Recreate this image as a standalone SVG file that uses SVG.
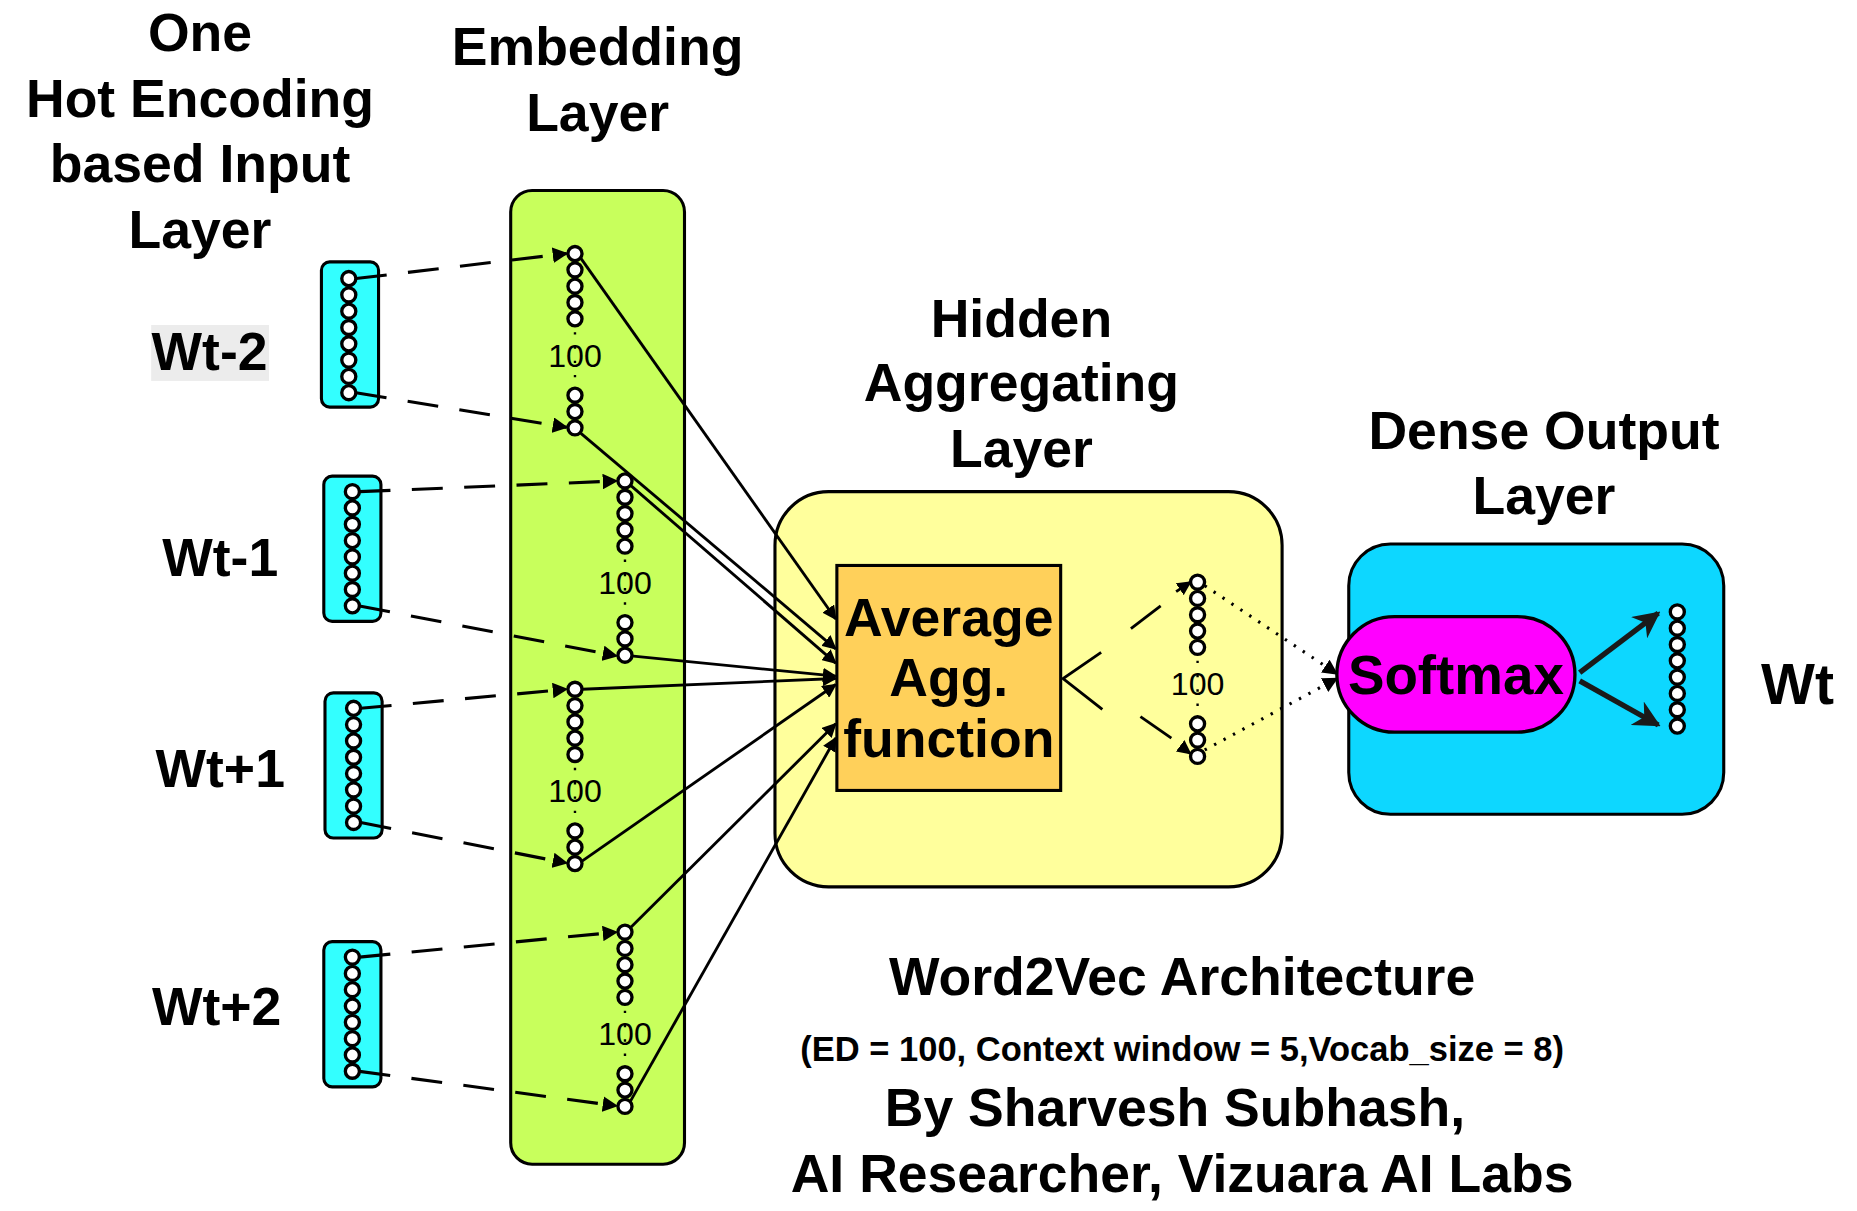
<svg xmlns="http://www.w3.org/2000/svg" width="1857" height="1211" viewBox="0 0 1857 1211">
<defs>
<style>
text{font-family:"Liberation Sans",Arial,sans-serif;font-weight:bold;fill:#000;text-anchor:middle}
.t{font-size:45px}
.n{font-weight:normal;font-size:27px}
.c{fill:#fff;stroke:#000;stroke-width:2.8}
.d{stroke:#000;stroke-width:2.6;stroke-dasharray:26 18;fill:none}
.s{stroke:#000;stroke-width:2.4;fill:none}
.dot{stroke:#000;stroke-width:2.6;stroke-dasharray:2 7;fill:none}
</style>
<marker id="a" viewBox="0 0 10 10" refX="9" refY="5" markerWidth="5" markerHeight="5" orient="auto"><path d="M0,0L10,5L0,10z" fill="#000"/></marker>
<marker id="b" viewBox="0 0 10 10" refX="9" refY="5" markerWidth="5" markerHeight="5" orient="auto"><path d="M0,0L10,5L0,10L3,5z" fill="#1a1a1a"/></marker>
<g id="col5"><circle class="c" cx="0" cy="0" r="5.9"/><circle class="c" cx="0" cy="13.7" r="5.9"/><circle class="c" cx="0" cy="27.4" r="5.9"/><circle class="c" cx="0" cy="41.1" r="5.9"/><circle class="c" cx="0" cy="54.8" r="5.9"/>
<text class="n" x="0" y="95">100</text><line x1="0" y1="66" x2="0" y2="112" stroke="#000" stroke-width="2" stroke-dasharray="2 10"/>
<circle class="c" cx="0" cy="119" r="5.9"/><circle class="c" cx="0" cy="132.7" r="5.9"/><circle class="c" cx="0" cy="146.4" r="5.9"/></g>
<g id="col8"><circle class="c" cx="0" cy="0" r="5.9"/><circle class="c" cx="0" cy="13.7" r="5.9"/><circle class="c" cx="0" cy="27.4" r="5.9"/><circle class="c" cx="0" cy="41.1" r="5.9"/><circle class="c" cx="0" cy="54.8" r="5.9"/><circle class="c" cx="0" cy="68.5" r="5.9"/><circle class="c" cx="0" cy="82.2" r="5.9"/><circle class="c" cx="0" cy="95.9" r="5.9"/></g>
</defs>
<rect width="1857" height="1211" fill="#fff"/>
<g transform="scale(1.19043)">
<g id="titles">
<text class="t" x="168" y="43">One</text><text class="t" x="168" y="98">Hot Encoding</text><text class="t" x="168" y="153">based Input</text><text class="t" x="168" y="208">Layer</text>
<text class="t" x="502" y="55">Embedding</text><text class="t" x="502" y="110">Layer</text>
<text class="t" x="858" y="283">Hidden</text><text class="t" x="858" y="337">Aggregating</text><text class="t" x="858" y="392">Layer</text>
<text class="t" x="1297" y="377">Dense Output</text><text class="t" x="1297" y="432">Layer</text>
</g>
<g id="input">
<rect x="127" y="273" width="99" height="47" fill="#ececec"/>
<text class="t" x="176" y="311">Wt-2</text><text class="t" x="185" y="484">Wt-1</text><text class="t" x="185" y="661">Wt+1</text><text class="t" x="182" y="861">Wt+2</text>
<rect x="270" y="220" width="48" height="122" rx="7" fill="#33ffff" stroke="#000" stroke-width="2.6"/>
<rect x="272" y="400" width="48" height="122" rx="7" fill="#33ffff" stroke="#000" stroke-width="2.6"/>
<rect x="273" y="582" width="48" height="122" rx="7" fill="#33ffff" stroke="#000" stroke-width="2.6"/>
<rect x="272" y="791" width="48" height="122" rx="7" fill="#33ffff" stroke="#000" stroke-width="2.6"/>
<use href="#col8" x="293" y="234"/><use href="#col8" x="296" y="413"/><use href="#col8" x="297" y="595"/><use href="#col8" x="296" y="804"/>
</g>
<g id="embedding">
<rect x="429" y="160" width="146" height="818" rx="18" fill="#c8ff5c" stroke="#000" stroke-width="2.6"/>
<use href="#col5" x="483" y="213"/><use href="#col5" x="525" y="404"/><use href="#col5" x="483" y="579"/><use href="#col5" x="525" y="783"/>
</g>
<g id="hidden">
<rect x="651" y="413" width="426" height="332" rx="45" fill="#ffff9c" stroke="#000" stroke-width="2.6"/>
<rect x="703" y="475" width="188" height="189" fill="#ffd05a" stroke="#000" stroke-width="2.6"/>
<text class="t" x="797" y="534">Average</text><text class="t" x="797" y="585">Agg.</text><text class="t" x="797" y="636">function</text>
<use href="#col5" x="1006" y="489"/>
</g>
<g id="output">
<rect x="1133" y="457" width="315" height="227" rx="35" fill="#0dd7ff" stroke="#000" stroke-width="2.6"/>
<rect x="1123" y="518" width="200" height="97" rx="48.5" fill="#ff00ff" stroke="#000" stroke-width="2.8"/>
<text x="1223" y="583" style="font-size:46px">Softmax</text>
<use href="#col8" x="1409" y="514"/>
<text x="1510" y="591" style="font-size:48px">Wt</text>
</g>
<g id="connectors">
<line class="d" x1="299" y1="234" x2="476" y2="213" marker-end="url(#a)"/>
<line class="d" x1="299" y1="330" x2="476" y2="359" marker-end="url(#a)"/>
<line class="d" x1="302" y1="413" x2="518" y2="404" marker-end="url(#a)"/>
<line class="d" x1="302" y1="509" x2="518" y2="551" marker-end="url(#a)"/>
<line class="d" x1="303" y1="595" x2="476" y2="579" marker-end="url(#a)"/>
<line class="d" x1="303" y1="691" x2="476" y2="725" marker-end="url(#a)"/>
<line class="d" x1="302" y1="804" x2="518" y2="783" marker-end="url(#a)"/>
<line class="d" x1="302" y1="900" x2="518" y2="929" marker-end="url(#a)"/>
<line class="s" x1="488" y1="217" x2="702" y2="520" marker-end="url(#a)"/>
<line class="s" x1="488" y1="364" x2="702" y2="545" marker-end="url(#a)"/>
<line class="s" x1="530" y1="408" x2="702" y2="557" marker-end="url(#a)"/>
<line class="s" x1="530" y1="551" x2="702" y2="568" marker-end="url(#a)"/>
<line class="s" x1="489" y1="579" x2="702" y2="570" marker-end="url(#a)"/>
<line class="s" x1="488" y1="724" x2="702" y2="575" marker-end="url(#a)"/>
<line class="s" x1="530" y1="779" x2="702" y2="608" marker-end="url(#a)"/>
<line class="s" x1="529" y1="926" x2="702" y2="620" marker-end="url(#a)"/>
<path class="s" d="M925,548L893,570L926,596"/>
<line class="s" x1="950" y1="528" x2="975" y2="509"/>
<line class="s" x1="958" y1="602" x2="984" y2="620"/>
<line class="s" x1="988" y1="497" x2="1000" y2="489" marker-end="url(#a)"/>
<line class="s" x1="992" y1="627" x2="1000" y2="633" marker-end="url(#a)"/>
<line class="dot" x1="1012" y1="492" x2="1123" y2="566" marker-end="url(#a)"/>
<line class="dot" x1="1012" y1="630" x2="1123" y2="570" marker-end="url(#a)"/>
<line x1="1327" y1="565" x2="1393" y2="515" stroke="#1a1a1a" stroke-width="4.5" marker-end="url(#b)"/>
<line x1="1327" y1="572" x2="1393" y2="609" stroke="#1a1a1a" stroke-width="4.5" marker-end="url(#b)"/>
</g>
<g id="caption">
<text class="t" x="993" y="836">Word2Vec Architecture</text>
<text x="993" y="891" style="font-size:29px">(ED = 100, Context window = 5,Vocab_size = 8)</text>
<text class="t" x="987" y="946">By Sharvesh Subhash,</text>
<text class="t" x="993" y="1001">AI Researcher, Vizuara AI Labs</text>
</g>
</g>
</svg>
